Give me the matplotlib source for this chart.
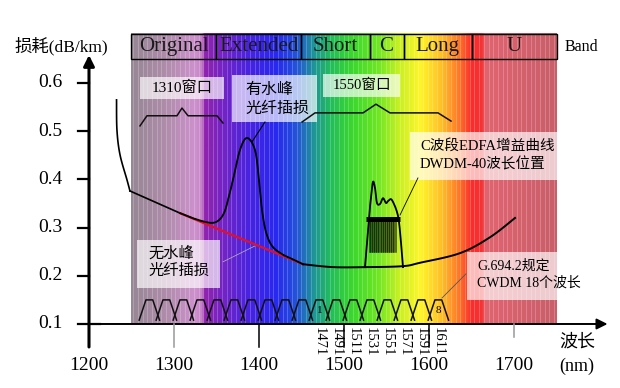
import numpy as np
import matplotlib.pyplot as plt
from matplotlib.patches import Rectangle

plt.rcParams['font.family'] = ['Liberation Serif', 'Noto Sans CJK SC']

# band bar on top
band_names = ['Original', 'Extended', 'Short', 'C', 'Long', 'U']
band_edges = [1250, 1350, 1450, 1530, 1570, 1650, 1750]

# background spectrum colours (nm -> rgb)
spec_nm = [1250, 1290, 1325, 1333, 1336, 1360, 1390, 1420, 1445, 1465, 1485,
           1510, 1540, 1565, 1590, 1615, 1635, 1650, 1662, 1666, 1750]
spec_rgb = [(150, 135, 148), (175, 140, 170), (205, 145, 205), (200, 130, 200),
            (145, 35, 175), (112, 35, 200), (70, 35, 225), (40, 40, 240),
            (35, 85, 215), (30, 150, 150), (35, 190, 90), (60, 215, 45),
            (110, 230, 35), (200, 240, 35), (255, 245, 40), (255, 190, 40),
            (255, 120, 40), (250, 45, 45), (245, 50, 50), (225, 100, 112),
            (200, 95, 105)]

# fibre loss without water peak (black - red - black)
loss_nm = [1232.4, 1232.9, 1236.5, 1244.7, 1248.2, 1307.1, 1377.6, 1451.8,
           1487.1, 1527.1, 1569.4, 1589.4, 1636.5, 1671.8, 1701.2]
loss_db = [0.565, 0.502, 0.451, 0.399, 0.376, 0.330, 0.278, 0.224,
           0.218, 0.218, 0.220, 0.227, 0.247, 0.280, 0.320]

# fibre loss with water peak
peak_nm = [1307.1, 1324.7, 1342.4, 1351.8, 1358.8, 1363.5, 1369.4, 1377.6,
           1385.9, 1395.3, 1400.0, 1403.5, 1408.2, 1415.3, 1427.0, 1438.8, 1451.8]
peak_db = [0.330, 0.318, 0.310, 0.314, 0.330, 0.357, 0.399, 0.461,
           0.486, 0.461, 0.399, 0.337, 0.291, 0.262, 0.245, 0.235, 0.224]

# C band EDFA gain curve
edfa_nm = [1524.7, 1527.1, 1529.4, 1531.8, 1534.1, 1536.5, 1538.8, 1542.4, 1545.9,
           1549.4, 1551.8, 1555.3, 1558.8, 1562.4, 1564.7, 1567.1, 1569.4]
edfa_db = [0.218, 0.270, 0.322, 0.363, 0.395, 0.382, 0.351, 0.349, 0.361,
           0.351, 0.355, 0.359, 0.349, 0.332, 0.312, 0.268, 0.218]

# DWDM 40 channels (100 GHz grid)
dwdm_nm = [1529.55, 1530.33, 1531.12, 1531.90, 1532.68, 1533.47, 1534.25, 1535.04,
           1535.82, 1536.61, 1537.40, 1538.19, 1538.98, 1539.77, 1540.56, 1541.35,
           1542.14, 1542.94, 1543.73, 1544.53, 1545.32, 1546.12, 1546.92, 1547.72,
           1548.51, 1549.32, 1550.12, 1550.92, 1551.72, 1552.52, 1553.33, 1554.13,
           1554.94, 1555.75, 1556.55, 1557.36, 1558.17, 1558.98, 1559.79, 1560.61]

# CWDM 18 channels
cwdm_nm = [1271, 1291, 1311, 1331, 1351, 1371, 1391, 1411, 1431,
           1451, 1471, 1491, 1511, 1531, 1551, 1571, 1591, 1611]
cwdm_labels = ['1471', '1491', '1511', '1531', '1551', '1571', '1591', '1611']

# windows
win1310_nm = [1260, 1268.2, 1303.5, 1309.4, 1316.5, 1350.6, 1357.6]
win1310_db = [0.511, 0.532, 0.532, 0.548, 0.532, 0.532, 0.517]
win1550_nm = [1450.6, 1465.9, 1522.4, 1537.6, 1554.1, 1610.6, 1625.9]
win1550_db = [0.519, 0.538, 0.538, 0.556, 0.538, 0.538, 0.521]

x_ticks = [1200, 1300, 1400, 1500, 1600, 1700]
y_ticks = [0.1, 0.2, 0.3, 0.4, 0.5, 0.6]


def smooth(xs, ys, n=12):
    # Catmull-Rom through the read points, just for drawing
    p = np.column_stack([xs, ys]).astype(float)
    p = np.vstack([p[0], p, p[-1]])
    out = []
    t = np.linspace(0, 1, n, endpoint=False)[:, None]
    for i in range(1, len(p) - 2):
        p0, p1, p2, p3 = p[i - 1], p[i], p[i + 1], p[i + 2]
        seg = 0.5 * ((2 * p1) + (-p0 + p2) * t + (2 * p0 - 5 * p1 + 4 * p2 - p3) * t ** 2
                     + (-p0 + 3 * p1 - 3 * p2 + p3) * t ** 3)
        out.append(seg)
    out.append(p[-2][None, :])
    out = np.vstack(out)
    return out[:, 0], out[:, 1]


fig = plt.figure(figsize=(6.2, 3.88), dpi=100)
ax = fig.add_axes([0, 0, 1, 1])
ax.set_xlim(1095.3, 1824.7)
ax.set_ylim(-0.0328, 0.7722)
ax.axis('off')

# spectrum background
grid = np.linspace(band_edges[0], band_edges[-1], 600)
rgb = np.array(spec_rgb) / 255.0
img = np.stack([np.interp(grid, spec_nm, rgb[:, i]) for i in range(3)], axis=-1)
img = np.tile(img[None, :, :], (2, 1, 1))
ax.imshow(img, extent=[band_edges[0], band_edges[-1], 0.1, 0.7017],
          aspect='auto', zorder=0, interpolation='bilinear')
for s in np.arange(band_edges[0] + 2, band_edges[-1], 5.5):
    ax.plot([s, s], [0.1, 0.7017], color='white', alpha=0.22, lw=0.7, zorder=1)

# band boxes
for i, name in enumerate(band_names):
    x0, x1 = band_edges[i], band_edges[i + 1]
    ax.add_patch(Rectangle((x0, 0.6498), x1 - x0, 0.0519, fill=False,
                           ec='black', lw=1.0, zorder=3))
    ax.text((x0 + x1) / 2, 0.6757, name, fontsize=15, ha='center', va='center',
            color='#1a1a1a', zorder=4)
ax.text(1779, 0.6757, 'Band', fontsize=11.5, ha='center', va='center')

# annotation boxes
boxes = [(1260, 0.567, 98.8, 0.045), (1368.2, 0.519, 100, 0.098),
         (1475.3, 0.571, 90.6, 0.048), (1577.6, 0.399, 173, 0.099),
         (1256.5, 0.175, 97.6, 0.099), (1644.7, 0.150, 105.9, 0.099)]
for (bx, by, bw, bh) in boxes:
    ax.add_patch(Rectangle((bx, by), bw, bh, fc='white', ec='none',
                           alpha=0.68, zorder=3))

ax.text(1309.4, 0.590, '1310窗口', fontsize=11, ha='center', va='center', zorder=5)
ax.text(1521, 0.595, '1550窗口', fontsize=10.5, ha='center', va='center', zorder=5)
ax.text(1383.5, 0.565, '有水峰\n光纤插损', fontsize=11.5, ha='left', va='center',
        linespacing=1.25, zorder=5)
ax.text(1589.4, 0.450, 'C波段EDFA增益曲线\nDWDM-40波长位置', fontsize=10.5,
        ha='left', va='center', linespacing=1.35, zorder=5)
ax.text(1269.4, 0.228, '无水峰\n光纤插损', fontsize=11, ha='left', va='center',
        linespacing=1.3, zorder=5)
ax.text(1656.5, 0.202, 'G.694.2规定\nCWDM 18个波长', fontsize=10, ha='left',
        va='center', linespacing=1.35, zorder=5)

# leader lines
ax.plot([1407, 1391.8], [0.519, 0.478], color='black', lw=0.8, zorder=5)
ax.plot([1587, 1565.9], [0.403, 0.326], color='black', lw=0.6, zorder=5)
ax.plot([1643.5, 1615.3], [0.204, 0.154], color='#555555', lw=0.6, zorder=5)
ax.plot([1357.6, 1395.3], [0.229, 0.262], color='#bbbbbb', lw=0.5, zorder=5)

# window brackets
ax.plot(win1310_nm, win1310_db, color='#111111', lw=1.1, zorder=5)
ax.plot(win1550_nm, win1550_db, color='#111111', lw=1.1, zorder=5)

# loss curves
loss_nm = np.array(loss_nm)
loss_db = np.array(loss_db)
steep = loss_nm <= 1248.2
slope = (loss_nm >= 1248.2) & (loss_nm <= 1307.1)
mid = (loss_nm >= 1307.1) & (loss_nm <= 1451.8)
right = loss_nm >= 1451.8
ax.plot(*smooth(loss_nm[steep], loss_db[steep]), color='black', lw=1.2, zorder=6)
ax.plot(loss_nm[slope], loss_db[slope], color='black', lw=1.2, zorder=6)
ax.plot(loss_nm[mid], loss_db[mid], color='#e0102a', lw=1.6, zorder=6)
ax.plot(*smooth(loss_nm[right], loss_db[right]), color='black', lw=1.4, zorder=6)
ax.plot(*smooth(peak_nm, peak_db), color='black', lw=1.3, zorder=6)

# EDFA + DWDM
ax.plot(*smooth(edfa_nm, edfa_db), color='black', lw=1.3, zorder=6)
for w in dwdm_nm:
    ax.plot([w, w], [0.250, 0.320], color='black', lw=0.38, zorder=6)
ax.plot([1525.9, 1565.9], [0.318, 0.318], color='black', lw=3.6,
        solid_capstyle='butt', zorder=6)

# CWDM trapezoids
for c in cwdm_nm:
    ax.plot([c - 12, c - 4, c + 4, c + 12], [0.108, 0.150, 0.150, 0.108],
            color='#111111', lw=1.1, zorder=6)
ax.text(cwdm_nm[10], 0.129, '1', fontsize=8, ha='center', va='center', zorder=6)
ax.text(cwdm_nm[17], 0.129, '8', fontsize=8, ha='center', va='center', zorder=6)
for lab in cwdm_labels:
    ax.text(float(lab), 0.094, lab, fontsize=10.5, rotation=-90, ha='center',
            va='top', zorder=6)

# axes
ax.annotate('', xy=(1200, 0.658), xytext=(1200, 0.0523),
            arrowprops=dict(arrowstyle='-|>', lw=2.2, color='black',
                            mutation_scale=16, shrinkA=0, shrinkB=0), zorder=7)
ax.annotate('', xy=(1810, 0.1), xytext=(1200, 0.1),
            arrowprops=dict(arrowstyle='-|>', lw=1.4, color='black',
                            mutation_scale=16, shrinkA=0, shrinkB=0), zorder=7)
for v in y_ticks:
    x_end = 1213 if v == 0.1 else 1200
    ax.plot([1187, x_end], [v, v], color='black', lw=1.6, zorder=7)
    ax.text(1169, v, f'{v:.1f}', fontsize=14, ha='right', va='center')
for t in x_ticks[1:]:
    col = '#999999' if t in (1300, 1700) else 'black'
    bottom = 0.073 if t == 1700 else 0.0523
    ax.plot([t, t], [0.1, bottom], color=col, lw=1.1, zorder=7)
for t in x_ticks:
    ax.text(t, 0.013, str(t), fontsize=14, ha='center', va='center')

ax.text(1167.6, 0.6757, '损耗(dB/km)', fontsize=12.5, ha='center', va='center')
ax.text(1774, 0.063, '波长', fontsize=13, ha='center', va='center')
ax.text(1774, 0.013, '(nm)', fontsize=13, ha='center', va='center')

fig.savefig('out.png', dpi=100)
